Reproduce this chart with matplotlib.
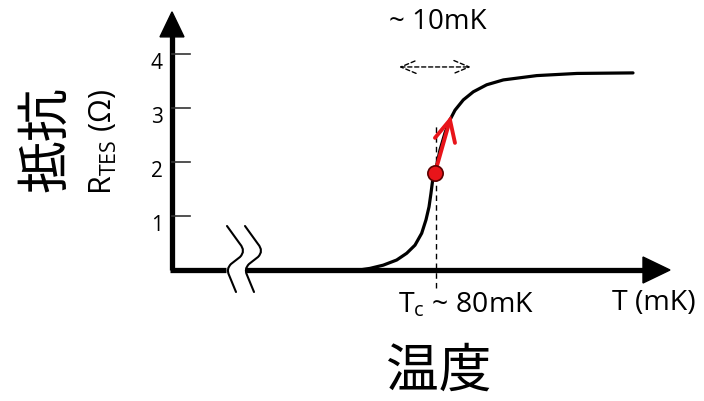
import numpy as np
import matplotlib
matplotlib.use("Agg")
import matplotlib.pyplot as plt
from matplotlib.path import Path
from matplotlib.patches import PathPatch

plt.rcParams['font.family'] = ['Open Sans', 'Noto Sans CJK JP', 'DejaVu Sans']
plt.rcParams['mathtext.fontset'] = 'custom'
plt.rcParams['mathtext.rm'] = 'Open Sans'

# R(T) transition curve of the TES, read by eye (T in mK, R in ohm)
temp_mk = [66.0, 69.5, 70.97, 72.82, 74.68, 76.07, 77.22, 78.15, 78.75, 79.17,
           79.44, 79.68, 80.0, 80.69, 81.39, 82.08, 82.78, 83.93, 85.32, 87.18,
           89.49, 91.81, 94.13, 99.72, 107.5]
res_ohm = [0.0, 0.0, 0.03, 0.09, 0.185, 0.31, 0.46, 0.68, 0.93, 1.17,
           1.42, 1.67, 1.80, 2.22, 2.54, 2.78, 2.96, 3.15, 3.30, 3.43,
           3.52, 3.56, 3.60, 3.64, 3.65]

tc = 80.0            # critical temperature (mK)
r_bias = 1.80        # operating point on the transition
t_swing, r_swing = 82.08, 2.78    # where the excursion arrow points
width_lo, width_hi = 75.0, 85.0   # ~10 mK transition width
y_ticks = [1, 2, 3, 4]

# canvas scale: 7.2 px per mK, 54 px per ohm
px_t = 1 / 7.2
px_r = 1 / 54.0
x0, x1 = 80 - 435 * px_t, 80 + 269 * px_t
y0, y1 = -131 * px_r, 270 * px_r

t_axis = x0 + 172 * px_t     # vertical axis position
t_end = x0 + 670 * px_t      # tip of the horizontal arrow
r_top = 4.78                 # tip of the vertical arrow

fig = plt.figure(figsize=(7.04, 4.01), dpi=100)
ax = fig.add_axes([0, 0, 1, 1])
ax.set_xlim(x0, x1)
ax.set_ylim(y0, y1)
ax.axis('off')


def px(x, y):
    # pixel position (from top-left) to data coordinates
    return x0 + x * px_t, y1 - y * px_r


# vertical axis with filled arrowhead
ax.plot([t_axis, t_axis], [0, r_top - 20 * px_r], color='black', lw=3.8,
        solid_capstyle='butt')
ax.fill([t_axis - 12 * px_t, t_axis + 12 * px_t, t_axis],
        [r_top - 25 * px_r, r_top - 25 * px_r, r_top], color='black')

# horizontal axis, broken, with arrowhead
ax.plot([t_axis - 2 * px_t, px(226, 0)[0]], [0, 0], color='black', lw=3.8,
        solid_capstyle='butt')
ax.plot([px(245, 0)[0], t_end - 24 * px_t], [0, 0], color='black', lw=3.8,
        solid_capstyle='butt')
ax.fill([t_end - 27 * px_t, t_end - 27 * px_t, t_end],
        [-13 * px_r, 13 * px_r, 0], color='black')

# wavy break marks
codes = [Path.MOVETO, Path.LINETO, Path.CURVE3, Path.CURVE3, Path.LINETO,
         Path.CURVE3, Path.CURVE3, Path.LINETO]
for dx in (0, 18):
    pts = [(227, 226), (240, 244), (246, 251), (240, 257), (231, 264),
           (226, 269), (229, 275), (236, 292)]
    verts = [px(x + dx, y) for x, y in pts]
    ax.add_patch(PathPatch(Path(verts, codes), fill=False, lw=1.5,
                           edgecolor='black', capstyle='round'))

# y ticks and labels
for v in y_ticks:
    ax.plot([t_axis, t_axis + 18 * px_t], [v, v], color='#333333', lw=1.2)
    ax.text(t_axis - 15 * px_t, v - 0.17, str(v), ha='center', va='center',
            fontsize=15)

# transition curve
ax.plot(temp_mk, res_ohm, color='black', lw=2.3, solid_capstyle='round',
        solid_joinstyle='round', zorder=3)

# Tc marker line
ax.plot([tc + 1 * px_t] * 2, [-0.33, 2.69], color='black', lw=1.0,
        ls=(0, (4, 3)), zorder=2)

# bias point and its excursion arrow (open V head)
red = '#e8141a'
ax.plot([tc, t_swing], [r_bias, r_swing], color=red, lw=2.8,
        solid_capstyle='round', zorder=5)
ax.plot([t_swing - 15 * px_t, t_swing, t_swing + 5 * px_t],
        [r_swing - 18 * px_r, r_swing, r_swing - 23 * px_r],
        color=red, lw=2.8, solid_capstyle='round', solid_joinstyle='miter',
        zorder=5)
ax.plot([tc], [r_bias], 'o', ms=11, mfc=red, mec='#5a0000', mew=1.2,
        zorder=6)

# transition width arrow
ax.annotate('', xy=(width_hi, 3.76), xytext=(width_lo, 3.76),
            arrowprops=dict(arrowstyle='<->,head_length=1.0,head_width=0.42',
                            mutation_scale=11, color='black', lw=1.0,
                            ls=(0, (3, 2)), shrinkA=0, shrinkB=0))
ax.text(px(438, 0)[0], px(0, 22)[1], '~ 10mK', ha='center', va='center',
        fontsize=20)

# axis labels
ax.text(px(466, 0)[0], px(0, 305)[1], r'T$_{\mathregular{c}}$ ~ 80mK',
        ha='center', va='center', fontsize=20.5)
ax.text(px(654, 0)[0], px(0, 303)[1], 'T (mK)', ha='center', va='center',
        fontsize=20.5)
ax.text(px(439, 0)[0], px(0, 371)[1], '温度', ha='center', va='center',
        fontsize=38, family=['Noto Sans CJK JP'])
ax.text(px(46, 0)[0], px(0, 139)[1], '抵抗', ha='center', va='center',
        fontsize=38, rotation=90, family=['Noto Sans CJK JP'])
ax.text(px(103, 0)[0], px(0, 142)[1], r'R$_{\mathregular{TES}}$ ($\Omega$)',
        ha='center', va='center', fontsize=22, rotation=90)

fig.savefig('out.png', dpi=100)
